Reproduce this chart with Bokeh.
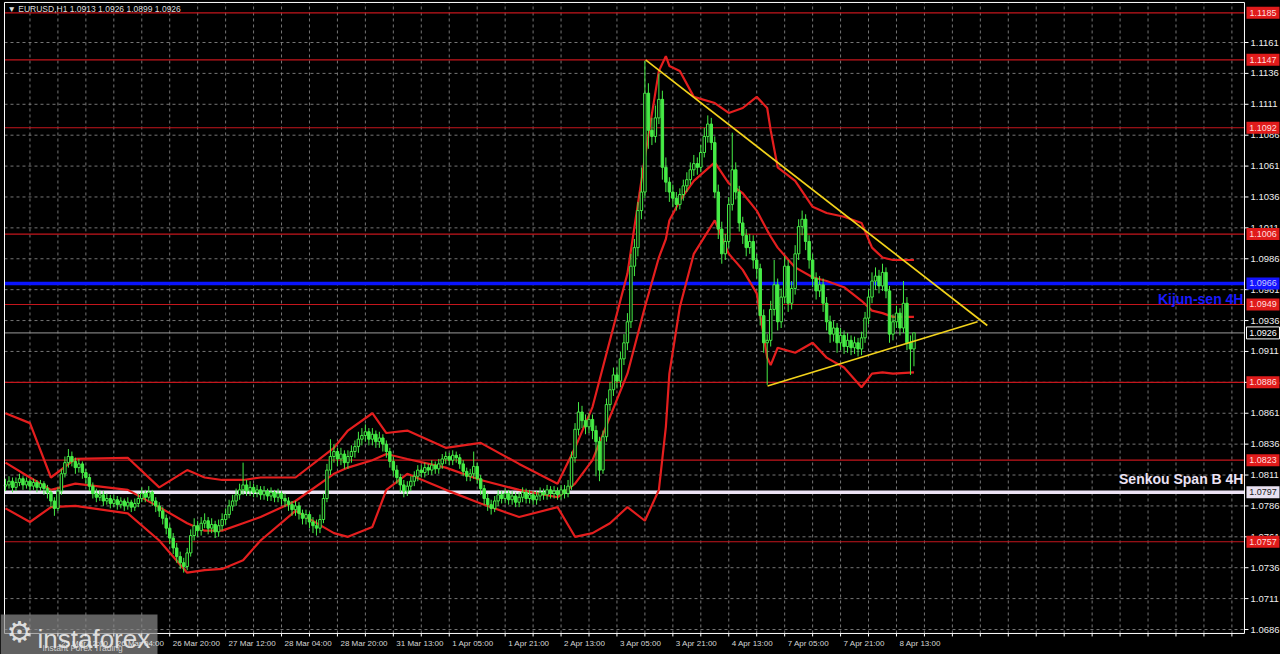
from bokeh.plotting import figure
from bokeh.models import Range1d, ColumnDataSource
from bokeh.core.properties import value
from bokeh.embed import file_html
from bokeh.resources import INLINE

# ---------------- data (EURUSD H1) ----------------
first_open = 1.0802
closes = [
    1.0803,1.0806,1.0801,1.0805,1.0808,1.0803,1.0806,1.0802,1.0805,1.0801,
    1.0804,1.0800,1.0797,1.0790,1.0784,1.0798,1.0812,1.0821,1.0826,1.0822,
    1.0817,1.0820,1.0813,1.0809,1.0802,1.0796,1.0793,1.0795,1.0790,1.0792,
    1.0788,1.0791,1.0787,1.0790,1.0786,1.0789,1.0785,1.0788,1.0792,1.0796,
    1.0793,1.0797,1.0790,1.0786,1.0782,1.0776,1.0768,1.0760,1.0752,1.0745,
    1.0740,1.0737,1.0748,1.0762,1.0770,1.0766,1.0772,1.0774,1.0768,1.0771,
    1.0765,1.0770,1.0775,1.0779,1.0786,1.0790,1.0795,1.0799,1.0803,1.0798,
    1.0801,1.0797,1.0799,1.0795,1.0798,1.0794,1.0797,1.0793,1.0796,1.0792,
    1.0790,1.0787,1.0783,1.0786,1.0780,1.0776,1.0779,1.0773,1.0770,1.0768,
    1.0775,1.0792,1.0815,1.0826,1.0830,1.0824,1.0828,1.0821,1.0826,1.0830,
    1.0834,1.0840,1.0843,1.0846,1.0840,1.0844,1.0838,1.0841,1.0836,1.0830,
    1.0822,1.0815,1.0809,1.0803,1.0798,1.0802,1.0806,1.0810,1.0815,1.0813,
    1.0817,1.0815,1.0819,1.0816,1.0820,1.0824,1.0826,1.0823,1.0827,1.0825,
    1.0820,1.0814,1.0810,1.0812,1.0818,1.0808,1.0800,1.0792,1.0787,1.0784,
    1.0790,1.0795,1.0792,1.0796,1.0791,1.0794,1.0789,1.0793,1.0797,1.0792,
    1.0795,1.0791,1.0794,1.0797,1.0795,1.0799,1.0796,1.0798,1.0795,1.0799,
    1.0796,1.0802,1.0825,1.0848,1.0862,1.0855,1.0850,1.0856,1.0847,1.0838,
    1.0815,1.0842,1.0868,1.0880,1.0892,1.0887,1.0905,1.0918,1.0935,1.0980,
    1.0995,1.1025,1.1040,1.1120,1.1090,1.1085,1.1100,1.1115,1.1060,1.1048,
    1.1040,1.1035,1.1030,1.1038,1.1045,1.1050,1.1058,1.1063,1.1060,1.1072,
    1.1085,1.1095,1.1080,1.1040,1.1010,1.0990,1.1000,1.1030,1.1058,1.1040,
    1.1015,1.1005,1.0995,1.1000,1.0985,1.0978,1.0940,1.0918,1.0920,1.0945,
    1.0965,1.0935,1.0955,1.0980,1.0950,1.0962,1.0990,1.1012,1.1018,1.1000,
    1.0985,1.0970,1.0960,1.0965,1.0950,1.0935,1.0925,1.0930,1.0918,1.0924,
    1.0915,1.0920,1.0914,1.0918,1.0913,1.0922,1.0938,1.0955,1.0968,1.0972,
    1.0964,1.0975,1.0960,1.0925,1.0935,1.0942,1.0930,1.0950,1.0918,1.0913,
    1.0926,
]
highs = [
    1.0808,1.0810,1.0809,1.0809,1.0812,1.0810,1.0809,1.0808,1.0808,1.0807,
    1.0807,1.0806,1.0803,1.0799,1.0793,1.0801,1.0816,1.0826,1.0832,1.0830,
    1.0825,1.0824,1.0822,1.0816,1.0812,1.0805,1.0800,1.0799,1.0798,1.0796,
    1.0795,1.0795,1.0794,1.0793,1.0792,1.0793,1.0791,1.0792,1.0796,1.0801,
    1.0799,1.0802,1.0799,1.0793,1.0789,1.0785,1.0779,1.0771,1.0764,1.0756,
    1.0749,1.0744,1.0752,1.0767,1.0776,1.0774,1.0777,1.0780,1.0777,1.0776,
    1.0774,1.0775,1.0780,1.0784,1.0791,1.0795,1.0800,1.0804,1.0821,1.0807,
    1.0806,1.0804,1.0803,1.0802,1.0802,1.0800,1.0801,1.0799,1.0800,1.0798,
    1.0796,1.0793,1.0790,1.0790,1.0789,1.0783,1.0783,1.0781,1.0777,1.0775,
    1.0779,1.0796,1.0820,1.0840,1.0836,1.0833,1.0833,1.0831,1.0831,1.0835,
    1.0839,1.0846,1.0849,1.0852,1.0849,1.0849,1.0847,1.0846,1.0844,1.0839,
    1.0833,1.0826,1.0819,1.0812,1.0807,1.0806,1.0810,1.0814,1.0819,1.0819,
    1.0821,1.0820,1.0823,1.0822,1.0824,1.0828,1.0830,1.0829,1.0831,1.0830,
    1.0828,1.0823,1.0817,1.0816,1.0830,1.0821,1.0811,1.0803,1.0796,1.0791,
    1.0794,1.0799,1.0798,1.0800,1.0799,1.0798,1.0797,1.0797,1.0801,1.0800,
    1.0799,1.0798,1.0798,1.0801,1.0800,1.0803,1.0802,1.0802,1.0801,1.0803,
    1.0803,1.0807,1.0830,1.0853,1.0870,1.0867,1.0860,1.0861,1.0860,1.0851,
    1.0842,1.0847,1.0873,1.0886,1.0898,1.0898,1.0911,1.0925,1.0942,1.0990,
    1.1002,1.1032,1.1060,1.1146,1.1128,1.1100,1.1110,1.1136,1.1122,1.1068,
    1.1052,1.1046,1.1040,1.1043,1.1050,1.1056,1.1064,1.1070,1.1068,1.1078,
    1.1092,1.1102,1.1100,1.1085,1.1046,1.1016,1.1006,1.1036,1.1088,1.1064,
    1.1045,1.1020,1.1010,1.1006,1.1005,1.0990,1.0982,1.0945,1.0925,1.0952,
    1.0985,1.0970,1.0962,1.0988,1.0985,1.0968,1.0997,1.1018,1.1025,1.1022,
    1.1005,1.0990,1.0975,1.0972,1.0970,1.0955,1.0940,1.0936,1.0934,1.0930,
    1.0928,1.0926,1.0924,1.0923,1.0922,1.0927,1.0943,1.0961,1.0975,1.0979,
    1.0977,1.0982,1.0979,1.0964,1.0941,1.0948,1.0946,1.0968,1.0955,1.0924,
    1.0926,
]
lows = [
    1.0798,1.0800,1.0797,1.0798,1.0802,1.0799,1.0800,1.0798,1.0799,1.0797,
    1.0798,1.0795,1.0792,1.0785,1.0778,1.0782,1.0795,1.0809,1.0817,1.0818,
    1.0812,1.0813,1.0808,1.0804,1.0798,1.0792,1.0789,1.0790,1.0786,1.0787,
    1.0784,1.0785,1.0783,1.0784,1.0782,1.0783,1.0781,1.0782,1.0785,1.0789,
    1.0789,1.0790,1.0786,1.0781,1.0777,1.0771,1.0763,1.0755,1.0747,1.0740,
    1.0735,1.0732,1.0734,1.0745,1.0758,1.0761,1.0762,1.0768,1.0763,1.0764,
    1.0760,1.0761,1.0766,1.0771,1.0776,1.0782,1.0786,1.0791,1.0795,1.0794,
    1.0794,1.0793,1.0793,1.0791,1.0791,1.0790,1.0790,1.0789,1.0789,1.0787,
    1.0785,1.0782,1.0778,1.0778,1.0775,1.0771,1.0771,1.0768,1.0764,1.0762,
    1.0764,1.0772,1.0789,1.0811,1.0821,1.0818,1.0819,1.0816,1.0816,1.0821,
    1.0825,1.0829,1.0835,1.0838,1.0835,1.0835,1.0833,1.0833,1.0830,1.0825,
    1.0817,1.0810,1.0804,1.0797,1.0793,1.0794,1.0798,1.0802,1.0806,1.0809,
    1.0809,1.0811,1.0811,1.0812,1.0812,1.0816,1.0820,1.0819,1.0819,1.0821,
    1.0816,1.0810,1.0806,1.0806,1.0808,1.0804,1.0795,1.0787,1.0782,1.0779,
    1.0781,1.0786,1.0788,1.0788,1.0787,1.0787,1.0785,1.0785,1.0789,1.0788,
    1.0788,1.0787,1.0787,1.0790,1.0791,1.0791,1.0792,1.0792,1.0791,1.0791,
    1.0792,1.0793,1.0799,1.0821,1.0843,1.0849,1.0844,1.0845,1.0840,1.0810,
    1.0806,1.0812,1.0838,1.0863,1.0875,1.0881,1.0882,1.0900,1.0912,1.0930,
    1.0972,1.0988,1.1018,1.1035,1.1075,1.1078,1.1080,1.1095,1.1050,1.1040,
    1.1032,1.1028,1.1025,1.1026,1.1033,1.1040,1.1046,1.1053,1.1054,1.1056,
    1.1068,1.1080,1.1074,1.1035,1.1002,1.0982,1.0985,1.0995,1.1025,1.1034,
    1.1008,1.0998,1.0988,1.0990,1.0978,1.0970,1.0932,1.0910,1.0884,1.0915,
    1.0940,1.0928,1.0930,1.0950,1.0943,1.0945,1.0957,1.0985,1.1005,1.0993,
    1.0978,1.0963,1.0953,1.0955,1.0943,1.0928,1.0918,1.0919,1.0910,1.0912,
    1.0909,1.0910,1.0908,1.0909,1.0907,1.0908,1.0918,1.0933,1.0950,1.0961,
    1.0958,1.0960,1.0954,1.0918,1.0920,1.0930,1.0924,1.0926,1.0912,1.0892,
    1.0899,
]

# Bollinger-style envelope (sampled by bar index)
band_idx = [0,7,13,20,35,44,52,57,62,68,73,83,94,98,105,109,115,126,136,147,158,163,168,173,178,
            183,187,189,190,193,197,203,207,211,215,218,219,221,226,231,235,240,245,248,251,254,260]
band_upper = [1.0861,1.0853,1.0809,1.0824,1.0825,1.0801,1.0815,1.0809,1.0807,1.0807,1.0809,1.0809,
              1.0833,1.0847,1.0861,1.0845,1.0847,1.0833,1.0837,1.0820,1.0804,1.0833,1.0866,1.0920,
              1.0974,1.1068,1.1138,1.1150,1.1142,1.1138,1.1117,1.1112,1.1104,1.1108,1.1117,1.1108,
              1.1090,1.1060,1.1049,1.1028,1.1023,1.1020,1.1015,1.0995,1.0987,1.0985,1.0985]
band_mid = [1.0821,1.0809,1.0799,1.0804,1.0799,1.0785,1.0772,1.0766,1.0766,1.0772,1.0777,1.0790,
            1.0812,1.0817,1.0823,1.0828,1.0824,1.0817,1.0807,1.0799,1.0793,1.0804,1.0823,1.0858,
            1.0893,1.0947,1.0987,1.1002,1.1017,1.1033,1.1049,1.1064,1.1047,1.1039,1.1025,1.1009,
            1.1004,1.0995,1.0979,1.0971,1.0968,1.0963,1.0952,1.0944,1.0942,1.0939,1.0939]
band_lower = [1.0784,1.0773,1.0785,1.0786,1.0780,1.0758,1.0732,1.0734,1.0735,1.0742,1.0758,1.0782,
              1.0764,1.0761,1.0769,1.0799,1.0812,1.0799,1.0788,1.0777,1.0785,1.0761,1.0764,1.0772,
              1.0785,1.0774,1.0799,1.0850,1.0893,1.0947,1.0990,1.1017,1.0990,1.0977,1.0958,1.0906,
              1.0900,1.0914,1.0910,1.0918,1.0906,1.0898,1.0882,1.0893,1.0894,1.0893,1.0894]

# triangle trend lines (bar index, price)
tri_upper_x = [183.2, 281.0]
tri_upper_y = [1.1147, 1.0932]
tri_lower_x = [218.1, 278.2]
tri_lower_y = [1.0883, 1.0935]

red_levels = [1.1185, 1.1147, 1.1092, 1.1006, 1.0949, 1.0886, 1.0823, 1.0757]
kijun_4h = 1.0966
senkou_b_4h = 1.0797
last_price = 1.0926

price_ticks = [1.0686,1.0711,1.0736,1.0761,1.0786,1.0811,1.0836,1.0861,1.0886,1.0911,
               1.0936,1.0961,1.0986,1.1011,1.1036,1.1061,1.1086,1.1111,1.1136,1.1161]
time_tick_idx = [15,31,47,63,79,95,111,127,143,159,175,191,207,223,239,255]
time_tick_labels = ["25 Mar 12:00","26 Mar 04:00","26 Mar 20:00","27 Mar 12:00","28 Mar 04:00",
                    "28 Mar 20:00","31 Mar 13:00","1 Apr 05:00","1 Apr 21:00","2 Apr 13:00",
                    "3 Apr 05:00","3 Apr 21:00","4 Apr 13:00","7 Apr 05:00","7 Apr 21:00","8 Apr 13:00"]

# ---------------- layout constants (chart window in data units) ----------------
GREEN = "#46ec46"
FONT = "Liberation Sans"
PX_X = 3.494            # pixels per bar
PX_Y = 12357.9          # pixels per price unit
X0, X1 = -1.431, 364.91
Y0, Y1 = 1.066577, 1.119499
XL, XR = -0.29, 354.6   # chart window left / right
YB, YT = 1.06828, 1.11934

p = figure(frame_width=1280, frame_height=654,
           x_range=Range1d(X0, X1), y_range=Range1d(Y0, Y1),
           x_axis_type=None, y_axis_type=None,
           output_backend="svg", toolbar_location=None,
           background_fill_color="black", border_fill_color="black",
           min_border=0, min_border_left=0, min_border_right=0, min_border_top=0, min_border_bottom=0)
p.outline_line_color = None

# grid
grid_x = list(range(7, 355, 8))
p.segment(x0=grid_x, y0=[YB] * len(grid_x), x1=grid_x, y1=[YT] * len(grid_x),
          line_color="#8a8a8a", line_dash="3 3", line_width=1, line_alpha=0.85)
p.segment(x0=[XL] * len(price_ticks), y0=price_ticks, x1=[XR] * len(price_ticks), y1=price_ticks,
          line_color="#8a8a8a", line_dash="3 3", line_width=1, line_alpha=0.85)

# horizontal levels
n = len(red_levels)
p.segment(x0=[XL] * n, y0=red_levels, x1=[XR] * n, y1=red_levels, line_color="#c4161c", line_width=1.2)
p.segment(x0=[XL], y0=[last_price], x1=[XR], y1=[last_price], line_color="#9a9a9a", line_width=1)
p.segment(x0=[XL], y0=[kijun_4h], x1=[XR], y1=[kijun_4h], line_color="#0a14ff", line_width=3.5)
p.segment(x0=[XL], y0=[senkou_b_4h], x1=[XR], y1=[senkou_b_4h], line_color="#ece2f4", line_width=3.5)

# bands
for arr in (band_upper, band_mid, band_lower):
    p.line(band_idx, arr, line_color="#e41e1e", line_width=2.2)

# candles
idx = list(range(len(closes)))
opens = [first_open] + closes[:-1]
tops = [max(o, c) for o, c in zip(opens, closes)]
bots = [min(o, c) for o, c in zip(opens, closes)]
fills = ["black" if c >= o else GREEN for o, c in zip(opens, closes)]
src = ColumnDataSource(dict(x=idx, h=highs, l=lows, top=tops, bottom=bots, fill=fills))
p.segment(x0="x", y0="l", x1="x", y1="h", source=src, line_color=GREEN, line_width=1)
p.vbar(x="x", width=0.7, top="top", bottom="bottom", fill_color="fill", line_color=GREEN,
       line_width=1, source=src)

# triangle
p.line(tri_upper_x, tri_upper_y, line_color="#f2d21b", line_width=1.7)
p.line(tri_lower_x, tri_lower_y, line_color="#f2d21b", line_width=1.7)

# chart window frame (white)
p.segment(x0=[XL, XR, XL, XL], y0=[YB, YB, YB, YT], x1=[XR, XR, XL, XR], y1=[YB, YT, YT, YT],
          line_color="white", line_width=1)

# watermark box + logo (under the time scale texts)
p.rect(x=[X0 + 78.5 / PX_X], y=[Y0 + 20 / PX_Y], width=157 / PX_X, height=40 / PX_Y,
       fill_color="#8a8a8a", fill_alpha=0.7, line_color=None)
p.text(x=[X0 + 19 / PX_X], y=[Y0 + 23 / PX_Y], text=["\u2699"], text_font=value("DejaVu Sans"),
       text_font_size=value("29px"), text_color="#eeeeee", text_alpha=0.9,
       text_align="center", text_baseline="middle")
p.text(x=[X0 + 37 / PX_X], y=[Y0 + 16 / PX_Y], text=["instaforex"], text_font=value(FONT),
       text_font_size=value("26px"), text_color="#eeeeee", text_alpha=0.9,
       text_align="left", text_baseline="alphabetic")
p.text(x=[X0 + 42 / PX_X], y=[Y0 + 7 / PX_Y], text=["Instant Forex Trading"], text_font=value(FONT),
       text_font_size=value("8.5px"), text_color="#e0e0e0", text_alpha=0.85,
       text_align="left", text_baseline="alphabetic")

# right price scale: ticks + labels
m = len(price_ticks)
p.segment(x0=[XR] * m, y0=price_ticks, x1=[XR + 4 / PX_X] * m, y1=price_ticks, line_color="white", line_width=1)
p.text(x=[XR + 6 / PX_X] * m, y=price_ticks, text=[f"{t:.4f}" for t in price_ticks],
       text_font=value(FONT), text_font_size=value("9.5px"), text_color="#eeeeee",
       text_align="left", text_baseline="middle")

# bottom time scale: ticks + labels
k = len(grid_x)
p.segment(x0=grid_x, y0=[YB] * k, x1=grid_x, y1=[YB - 3 / PX_Y] * k, line_color="white", line_width=1)
p.text(x=[t + 3 / PX_X for t in time_tick_idx], y=[YB - 10 / PX_Y] * len(time_tick_idx), text=time_tick_labels,
       text_font=value(FONT), text_font_size=value("8px"), text_color="#eeeeee", text_alpha=0.9,
       text_align="left", text_baseline="middle")

# price boxes on the right scale
BX = XR + 18.5 / PX_X
BW = 33 / PX_X
BH = 12 / PX_Y
p.rect(x=[BX] * n, y=red_levels, width=BW, height=BH, fill_color="#e01b1b", line_color=None)
p.text(x=[BX] * n, y=red_levels, text=[f"{v:.4f}" for v in red_levels], text_font=value(FONT),
       text_font_size=value("9px"), text_color="#ffdede", text_align="center", text_baseline="middle")
p.rect(x=[BX], y=[kijun_4h], width=BW, height=BH, fill_color="#1414ff", line_color=None)
p.text(x=[BX], y=[kijun_4h], text=[f"{kijun_4h:.4f}"], text_font=value(FONT),
       text_font_size=value("9px"), text_color="#c8c8ff", text_align="center", text_baseline="middle")
p.rect(x=[BX], y=[senkou_b_4h], width=BW, height=BH, fill_color="#e8e0f0", line_color=None)
p.text(x=[BX], y=[senkou_b_4h], text=[f"{senkou_b_4h:.4f}"], text_font=value(FONT),
       text_font_size=value("9px"), text_color="#202020", text_align="center", text_baseline="middle")
p.rect(x=[BX], y=[last_price], width=BW, height=BH, fill_color="black", line_color="white", line_width=1)
p.text(x=[BX], y=[last_price], text=[f"{last_price:.4f}"], text_font=value(FONT),
       text_font_size=value("9px"), text_color="white", text_align="center", text_baseline="middle")

# line captions
p.text(x=[XR - 1 / PX_X], y=[kijun_4h - 16 / PX_Y], text=["Kijun-sen 4H"], text_font=value(FONT),
       text_font_style="bold", text_font_size=value("14px"), text_color="#1a1aff",
       text_align="right", text_baseline="middle")
p.text(x=[XR - 1 / PX_X], y=[senkou_b_4h + 13 / PX_Y], text=["Senkou Span B 4H"], text_font=value(FONT),
       text_font_style="bold", text_font_size=value("14px"), text_color="#ece2f4",
       text_align="right", text_baseline="middle")

# title
p.text(x=[XL + 3 / PX_X], y=[YT - 7 / PX_Y], text=["\u25bc EURUSD,H1  1.0913 1.0926 1.0899 1.0926"],
       text_font=value(FONT), text_font_size=value("8.5px"), text_color="#dcdcdc",
       text_align="left", text_baseline="middle")

html = file_html(p, INLINE, title="EURUSD H1")
html = html.replace("</head>", "<style>html,body{margin:0;padding:0;background:#000;overflow:hidden}</style></head>", 1)
open("out.html", "w").write(html)
